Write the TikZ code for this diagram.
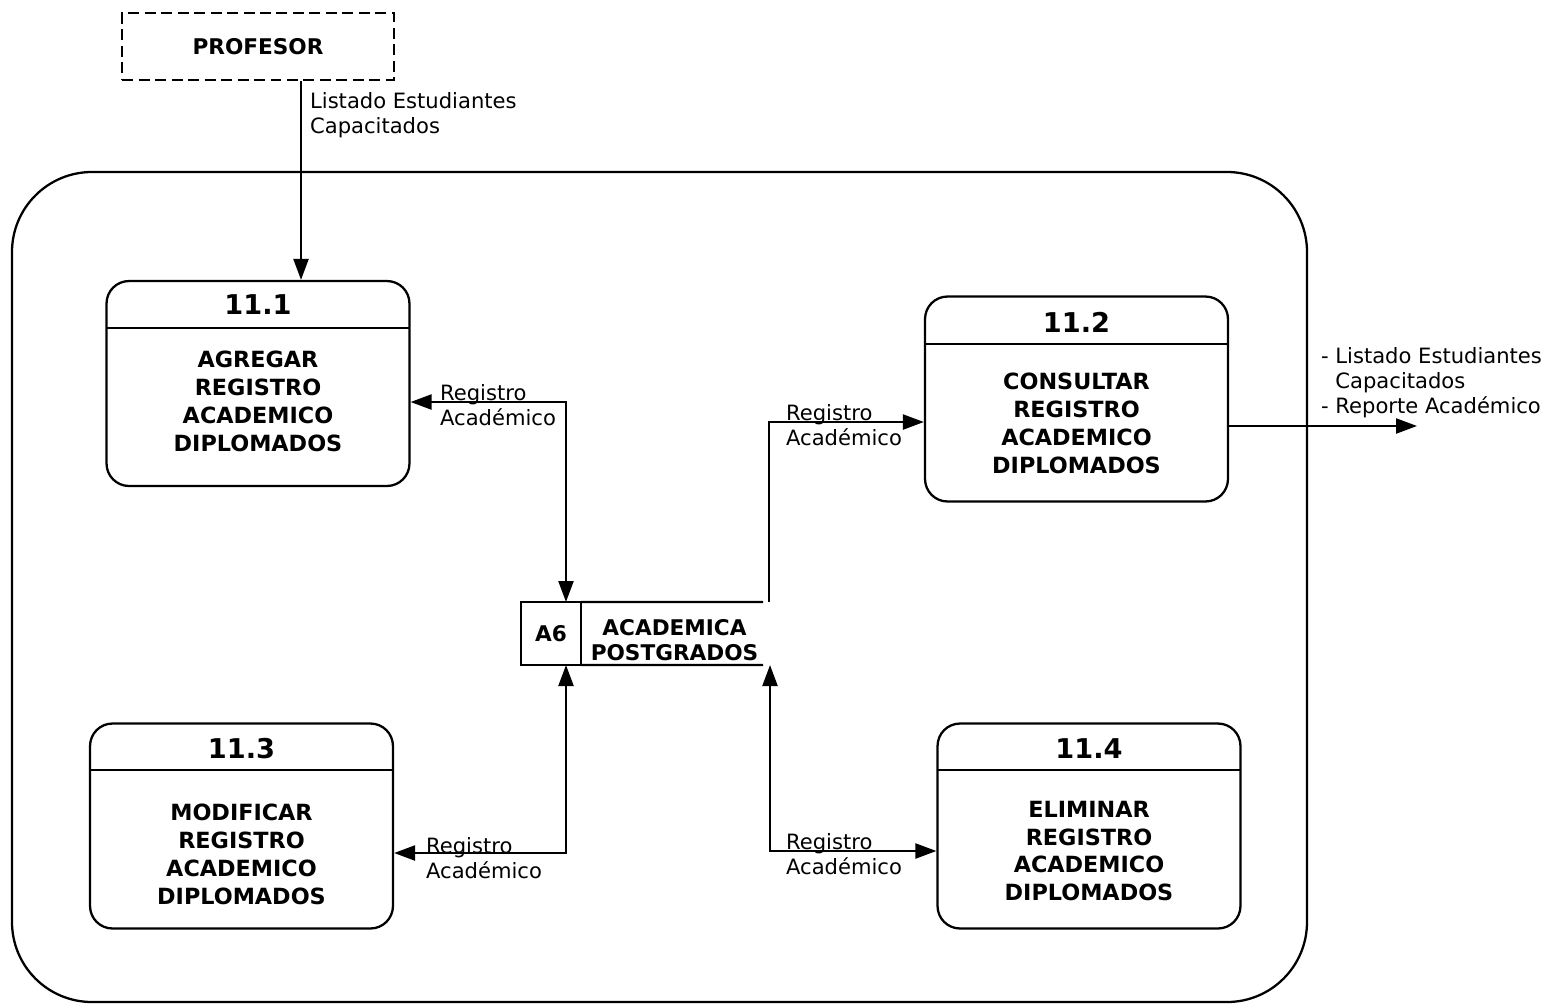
\documentclass[tikz,border=0pt]{standalone}
\usepackage{fontspec}
\setmainfont{DejaVu Sans}
\usetikzlibrary{arrows.meta}
\begin{document}
\begin{tikzpicture}[x=0.02cm,y=-0.02cm,line width=1.3pt,
  tip/.tip={Triangle[length=0.42cm,width=0.3cm]},
  proc/.style={draw,rounded corners=0.45cm,minimum width=6.06cm,minimum height=4.1cm,inner sep=0},
  ptitle/.style={font=\fontsize{15.5}{18}\selectfont\bfseries,inner sep=0},
  pbody/.style={font=\fontsize{12.7}{15.9}\selectfont\bfseries,align=center,inner sep=0},
  lbl/.style={font=\fontsize{12}{14.2}\selectfont,align=left,anchor=west,inner sep=0},
  flow/.style={-tip},
  flow2/.style={tip-tip}]
\useasboundingbox (0,0) rectangle (1551,1005);

% outer boundary
\draw[rounded corners=1.6cm] (12,172) rectangle (1307,1002);

% external entity
\node[draw,dash pattern=on 0.22cm off 0.11cm,minimum width=5.44cm,minimum height=1.34cm,
      font=\fontsize{12.3}{14}\selectfont\bfseries] (prof) at (258,46.5) {PROFESOR};

% processes
\node[proc] (p1) at (258,383.5) {};
\node[ptitle] (t1) at (258,305) {11.1};
\node[pbody] (b1) at (258,401.5) {AGREGAR\\REGISTRO\\ACADEMICO\\DIPLOMADOS};
\draw (106,328) -- (410,328);

\node[proc] (p2) at (1076.5,399) {};
\node[ptitle] (t2) at (1076.5,322) {11.2};
\node[pbody] (b2) at (1076.5,423) {CONSULTAR\\REGISTRO\\ACADEMICO\\DIPLOMADOS};
\draw (925,344) -- (1228,344);

\node[proc] (p3) at (241.5,826) {};
\node[ptitle] (t3) at (241.5,749) {11.3};
\node[pbody] (b3) at (241.5,854) {MODIFICAR\\REGISTRO\\ACADEMICO\\DIPLOMADOS};
\draw (90,770) -- (393,770);

\node[proc] (p4) at (1089,826) {};
\node[ptitle] (t4) at (1089,749) {11.4};
\node[pbody] (b4) at (1089,851) {ELIMINAR\\REGISTRO\\ACADEMICO\\DIPLOMADOS};
\draw (937,770) -- (1241,770);

% data store
\node[draw,minimum width=1.2cm,minimum height=1.26cm,inner sep=0,outer sep=0,
      font=\fontsize{12.3}{14}\selectfont\bfseries] (a6) at (551,633.5) {A6};
\node[font=\fontsize{12.3}{14.2}\selectfont\bfseries,align=center,inner sep=0] (st) at (674.5,640.5) {ACADEMICA\\POSTGRADOS};
\coordinate (sTop) at (769,602);
\coordinate (sBot) at (770,665);
\draw (a6.north east) -- (763,602);
\draw (a6.south east) -- (763,665);

% connectors
\coordinate (f1) at (301,0);
\draw[flow] (prof.south -| f1) -- (p1.north -| f1);
\node[lbl] (l0) at (309,115.5) {Listado Estudiantes\\Capacitados};

\coordinate (k1) at (566,402);
\draw[flow2] (p1.east |- k1) -- (k1) -- (a6.north -| k1);
\node[lbl] (l1) at (439,405.5) {Registro\\Académico};

\coordinate (k2) at (769,422);
\draw[flow] (sTop) -- (k2) -- (p2.west |- k2);
\node[lbl] (l2) at (785,425) {Registro\\Académico};

\coordinate (k3) at (566,853);
\draw[flow2] (p3.east |- k3) -- (k3) -- (a6.south -| k3);
\node[lbl] (l3) at (425,858) {Registro\\Académico};

\coordinate (k4) at (770,851);
\draw[flow2] (sBot) -- (k4) -- (p4.west |- k4);
\node[lbl] (l4) at (785,854.5) {Registro\\Académico};

\coordinate (o2) at (1417,426);
\draw[flow] (p2.east |- o2) -- (o2);
\node[lbl] (l5) at (1320,382.5) {- Listado Estudiantes\\\phantom{- }Capacitados\\- Reporte Académico};
\end{tikzpicture}
\end{document}
